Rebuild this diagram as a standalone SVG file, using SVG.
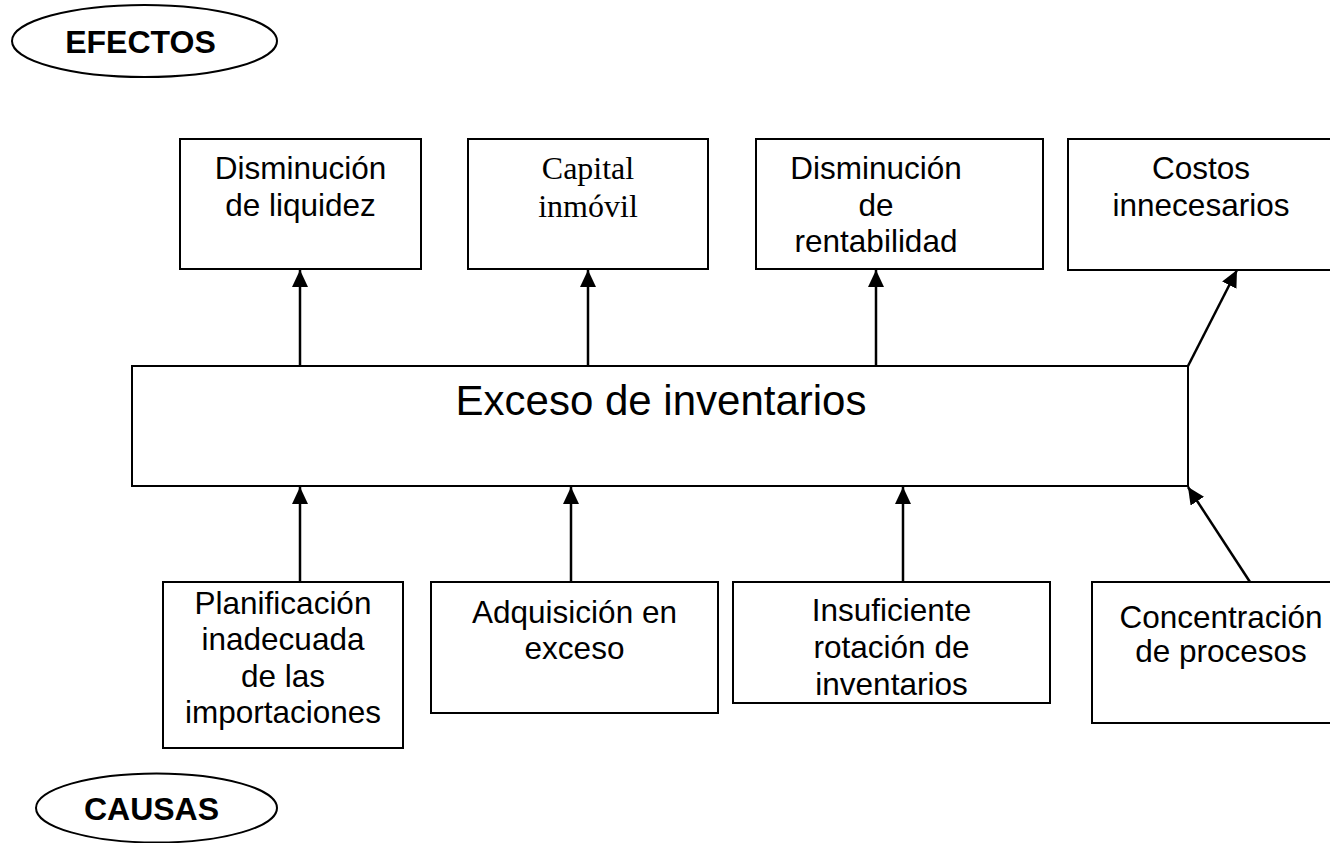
<svg xmlns="http://www.w3.org/2000/svg" width="1330" height="843" viewBox="0 0 1330 843">
<style>
.box{fill:#fff;stroke:#000;stroke-width:2}
.t{font-family:"Liberation Sans",Arial,sans-serif;font-size:31.5px;text-anchor:middle;fill:#000}
.tr{font-family:"Liberation Serif","Times New Roman",serif;font-size:32px;text-anchor:middle;fill:#000}
.big{font-family:"Liberation Sans",Arial,sans-serif;font-size:42px;text-anchor:middle;fill:#000}
.b{font-family:"Liberation Sans",Arial,sans-serif;font-size:32px;font-weight:bold;text-anchor:middle;fill:#000}
.c{stroke:#000;stroke-width:2.5;fill:none;marker-end:url(#ah)}
</style>
<defs>
<marker id="ah" markerUnits="userSpaceOnUse" markerWidth="18" markerHeight="16" refX="17" refY="8" orient="auto">
<path d="M0,0 L17,8 L0,16 z" fill="#000"/>
</marker>
</defs>
<rect width="1330" height="843" fill="#fff"/>
<g id="efectos">
<ellipse cx="144.5" cy="41" rx="132.5" ry="36" class="box"/>
<text x="140.5" y="53" class="b">EFECTOS</text>
</g>
<g id="causas">
<ellipse cx="156.5" cy="808" rx="120.5" ry="34.5" class="box"/>
<text x="151.5" y="820" class="b">CAUSAS</text>
</g>
<g id="connectors">
<line x1="300" y1="366" x2="300" y2="270" class="c"/>
<line x1="588" y1="366" x2="588" y2="270" class="c"/>
<line x1="876" y1="366" x2="876" y2="270" class="c"/>
<line x1="1188" y1="366" x2="1237" y2="270" class="c"/>
<line x1="300" y1="582" x2="300" y2="487" class="c"/>
<line x1="571" y1="582" x2="571" y2="487" class="c"/>
<line x1="903" y1="582" x2="903" y2="487" class="c"/>
<line x1="1250" y1="582" x2="1188" y2="487" class="c"/>
</g>
<g id="e1">
<rect x="180" y="139" width="241" height="130" class="box"/>
<text x="300.5" y="179" class="t">Disminución</text>
<text x="300.5" y="216" class="t">de liquidez</text>
</g>
<g id="e2">
<rect x="468" y="139" width="240" height="130" class="box"/>
<text x="588" y="179" class="tr">Capital</text>
<text x="588" y="217" class="tr">inmóvil</text>
</g>
<g id="e3">
<rect x="756" y="139" width="287" height="130" class="box"/>
<text x="876" y="179" class="t">Disminución</text>
<text x="876" y="216" class="t">de</text>
<text x="876" y="252" class="t">rentabilidad</text>
</g>
<g id="e4">
<rect x="1068" y="139" width="280" height="131" class="box"/>
<text x="1201" y="179" class="t">Costos</text>
<text x="1201" y="216" class="t">innecesarios</text>
</g>
<g id="main">
<rect x="132" y="366" width="1056" height="120" class="box"/>
<text x="661" y="415" class="big">Exceso de inventarios</text>
</g>
<g id="c1">
<rect x="163" y="582" width="240" height="166" class="box"/>
<text x="283" y="614" class="t">Planificación</text>
<text x="283" y="650" class="t">inadecuada</text>
<text x="283" y="687" class="t">de las</text>
<text x="283" y="723" class="t">importaciones</text>
</g>
<g id="c2">
<rect x="431" y="582" width="287" height="131" class="box"/>
<text x="574.5" y="623" class="t">Adquisición en</text>
<text x="574.5" y="659" class="t">exceso</text>
</g>
<g id="c3">
<rect x="733" y="582" width="317" height="121" class="box"/>
<text x="891.5" y="621" class="t">Insuficiente</text>
<text x="891.5" y="658" class="t">rotación de</text>
<text x="891.5" y="695" class="t">inventarios</text>
</g>
<g id="c4">
<rect x="1092" y="582" width="260" height="141" class="box"/>
<text x="1221" y="628" class="t">Concentración</text>
<text x="1221" y="662" class="t">de procesos</text>
</g>
</svg>
